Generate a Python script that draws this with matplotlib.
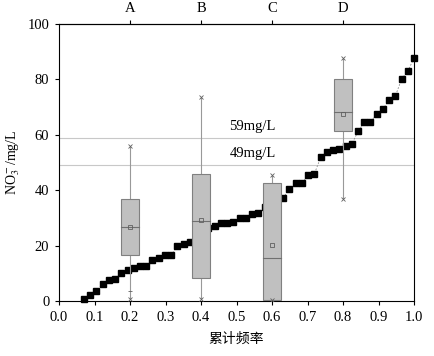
import matplotlib
matplotlib.use("Agg")
import matplotlib.pyplot as plt
import numpy as np

plt.rcParams['font.family'] = ['Liberation Serif', 'Noto Sans CJK SC']
plt.rcParams['mathtext.fontset'] = 'stix'

# cumulative frequency and sorted nitrate concentration (mg/L)
cum_freq = [0.070, 0.088, 0.105, 0.123, 0.140, 0.158, 0.175, 0.193, 0.211, 0.228,
            0.246, 0.263, 0.281, 0.298, 0.316, 0.333, 0.351, 0.368, 0.386, 0.404,
            0.421, 0.439, 0.456, 0.474, 0.491, 0.509, 0.526, 0.544, 0.561, 0.579,
            0.596, 0.614, 0.632, 0.649, 0.667, 0.684, 0.702, 0.719, 0.737, 0.754,
            0.772, 0.789, 0.807, 0.825, 0.842, 0.860, 0.877, 0.895, 0.912, 0.930,
            0.947, 0.965, 0.982, 1.000]
no3 = [0.7, 2.0, 3.6, 6.1, 7.5, 8.1, 10.0, 11.2, 12.0, 12.7,
       12.7, 14.8, 15.6, 16.5, 16.6, 19.8, 20.6, 21.2, 22.5, 24.0,
       26.2, 27.2, 28.0, 28.0, 28.6, 29.8, 30.1, 31.3, 31.8, 34.0,
       35.0, 36.0, 37.3, 40.5, 42.6, 42.6, 45.5, 45.8, 51.9, 53.8,
       54.4, 54.8, 56.0, 56.7, 61.2, 64.5, 64.7, 67.4, 69.3, 72.5,
       73.9, 80.1, 83.0, 87.6]

# box plots for groups A-D
groups = ['A', 'B', 'C', 'D']
group_pos = [0.2, 0.4, 0.6, 0.8]
box_min = [0.6, 0.7, 0.5, 36.8]
box_q1 = [16.5, 8.2, 0.3, 61.4]
box_med = [26.8, 28.9, 15.4, 68.2]
box_q3 = [36.7, 45.7, 42.5, 80.0]
box_max = [55.9, 73.8, 45.5, 87.6]
box_mean = [26.8, 29.3, 20.2, 67.6]
box_p1 = [3.6, None, None, None]

ref_levels = [59, 49]
ref_labels = ['59mg/L', '49mg/L']

fig = plt.figure(figsize=(4.34, 3.56), dpi=100)
ax = fig.add_axes([0.136, 0.1545, 0.818, 0.778])

# scatter of cumulative frequency
ax.plot(cum_freq, no3, color='#888888', lw=0.6, ls=(0, (2, 2)), zorder=2)
ax.plot(cum_freq, no3, 's', color='black', ms=4.4, zorder=3, clip_on=False)

# box plots
w = 0.05
for i, p in enumerate(group_pos):
    ax.plot([p, p], [box_min[i], box_max[i]], color='#999999', lw=0.8, zorder=4)
    ax.add_patch(plt.Rectangle((p - w / 2, box_q1[i]), w, box_q3[i] - box_q1[i],
                               facecolor='#c0c0c0', edgecolor='#808080', lw=0.8, zorder=5))
    ax.plot([p - w / 2, p + w / 2], [box_med[i], box_med[i]], color='#707070', lw=0.8, zorder=6)
    ax.plot(p, box_mean[i], 's', ms=3, mfc='none', mec='#606060', mew=0.6, zorder=7)
    ax.plot([p, p], [box_min[i], box_max[i]], 'x', ms=3, color='#606060', mew=0.6, zorder=7)
    if box_p1[i] is not None:
        ax.plot(p, box_p1[i], '_', ms=3, color='#606060', mew=0.6, zorder=7)

# guideline levels
for lvl, lab in zip(ref_levels, ref_labels):
    ax.axhline(lvl, color='#c8c8c8', lw=0.8, zorder=1)
    ax.text(0.545, lvl + 1.8, lab, ha='center', va='bottom', fontsize=10.5)

ax.set_xlim(0, 1.0)
ax.set_ylim(0, 100)
ax.set_xticks(np.arange(0, 1.01, 0.1))
ax.set_xticklabels([f'{v:.1f}' for v in np.arange(0, 1.01, 0.1)])
ax.set_yticks([0, 20, 40, 60, 80, 100])
ax.tick_params(labelsize=10.5, length=3, width=0.8, pad=4)
ax.set_xlabel('累计频率', fontsize=10, family=['Noto Sans CJK SC'], labelpad=6)
ax.set_ylabel('NO$_3^-$/mg/L', fontsize=10)

top = ax.secondary_xaxis('top')
top.set_xticks(group_pos)
top.set_xticklabels(groups)
top.tick_params(labelsize=10.5, length=3, width=0.8)

for s in ax.spines.values():
    s.set_linewidth(0.8)

fig.savefig('out.png', dpi=100)
